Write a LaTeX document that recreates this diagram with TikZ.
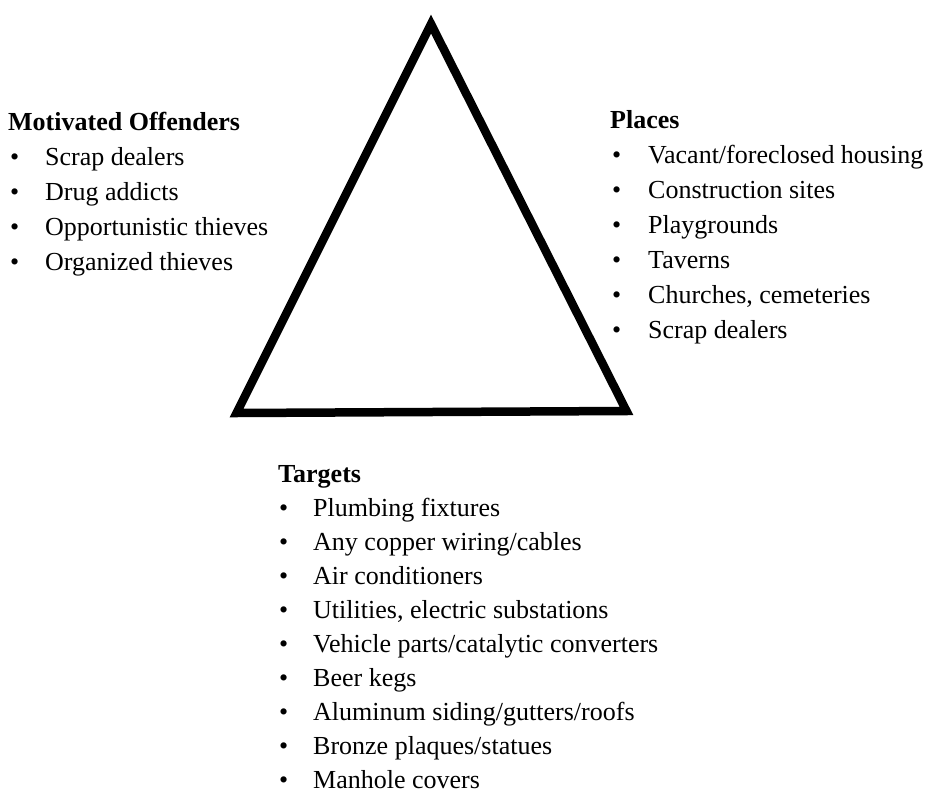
\documentclass[tikz,border=0pt]{standalone}
\usepackage{fontspec}
\setmainfont{Liberation Serif}
\tikzset{
  heading/.style={anchor=base west, inner sep=0pt, font=\fontsize{26}{30}\selectfont\bfseries},
  item/.style={anchor=base west, inner sep=0pt, font=\fontsize{26}{30}\selectfont},
  dot/.style={anchor=base west, inner sep=0pt, font=\fontsize{26}{30}\selectfont},
  side/.style={line width=8.5pt, line join=miter, miter limit=10}
}
\begin{document}
\begin{tikzpicture}[x=1pt,y=-1pt]
\useasboundingbox (0,0) rectangle (944,800);

% the crime triangle
\coordinate (apex) at (431,24);
\coordinate (left) at (236.5,413);
\coordinate (right) at (626.5,411);
\draw[side] (apex) -- (right) -- (left) -- cycle;

% offenders
\node[heading] (off) at (8,130) {Motivated Offenders};
\foreach \txt [count=\i] in {Scrap dealers, Drug addicts, Opportunistic thieves, Organized thieves} {
  \node[dot] (off-dot-\i) at (10,130+35*\i) {\textbullet};
  \node[item] (off-\i) at (45,130+35*\i) {\txt};
}

% places
\node[heading] (plc) at (610,128) {Places};
\foreach \txt [count=\i] in {Vacant/foreclosed housing, Construction sites, Playgrounds, Taverns, {Churches, cemeteries}, Scrap dealers} {
  \node[dot] (plc-dot-\i) at (612,128+35*\i) {\textbullet};
  \node[item] (plc-\i) at (648,128+35*\i) {\txt};
}

% targets
\node[heading] (tgt) at (278,482) {Targets};
\foreach \txt [count=\i] in {Plumbing fixtures, Any copper wiring/cables, Air conditioners, {Utilities, electric substations}, Vehicle parts/catalytic converters, Beer kegs, Aluminum siding/gutters/roofs, Bronze plaques/statues, Manhole covers} {
  \node[dot] (tgt-dot-\i) at (279,482+34*\i) {\textbullet};
  \node[item] (tgt-\i) at (313,482+34*\i) {\txt};
}
\end{tikzpicture}
\end{document}
